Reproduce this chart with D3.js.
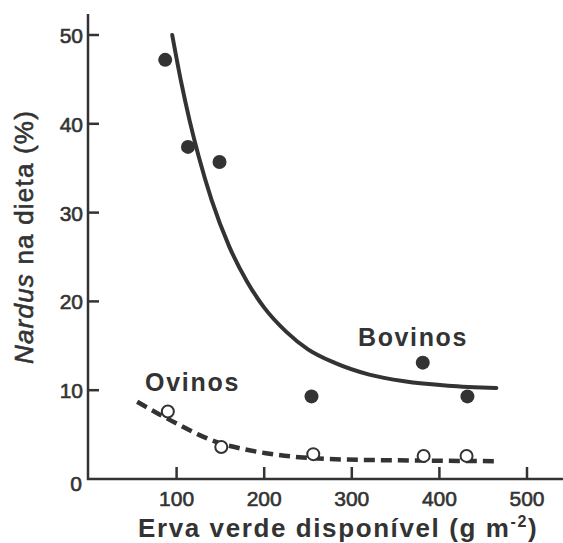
<!DOCTYPE html>
<html><head><meta charset="utf-8">
<script src="https://cdn.jsdelivr.net/npm/d3@7"></script>
<style>body{margin:0;background:#fff}svg{display:block}text{font-family:"Liberation Sans",Arial,sans-serif;fill:#333}.heavy{stroke:#333;stroke-width:0.6px}</style>
</head><body><div id="chart"></div>
<script>
const xTicks = [100, 200, 300, 400, 500];
const yTicks = [10, 20, 30, 40, 50];
const bovinosX = [87, 113, 149, 254, 381, 432];
const bovinosY = [47.2, 37.4, 35.7, 9.3, 13.1, 9.3];
const ovinosX = [90, 151, 256, 382, 431];
const ovinosY = [7.6, 3.6, 2.8, 2.6, 2.6];
const bovinosCurveX = [95, 105, 115, 125, 140, 160, 180, 200, 225, 250, 280, 320, 360, 410, 465];
const bovinosCurveY = [50.0, 44.8, 40.3, 36.4, 31.4, 26.2, 22.3, 19.3, 16.6, 14.6, 13.1, 11.75, 11.0, 10.5, 10.25];
const ovinosCurveX = [55, 80, 103, 125, 149, 175, 202, 240, 290, 354, 410, 465];
const ovinosCurveY = [8.7, 7.3, 6.1, 5.0, 4.05, 3.4, 2.9, 2.45, 2.2, 2.1, 2.05, 2.0];

const W = 563, H = 543, ink = "#333";
const svg = d3.select("#chart").append("svg").attr("width", W).attr("height", H);
const x = d3.scaleLinear().domain([0, 500]).range([89, 527]);
const y = d3.scaleLinear().domain([0, 50]).range([479, 35]);

function fit(sel, target) {
  const w = sel.node().getComputedTextLength();
  const n = sel.text().length;
  sel.attr("letter-spacing", (target - w) / n);
}

// axes
const g = svg.append("g").attr("stroke", ink).attr("stroke-width", 2.5).attr("fill", "none");
g.append("line").attr("x1", 88).attr("x2", 88).attr("y1", 14).attr("y2", 480);
g.append("line").attr("x1", 87).attr("x2", W).attr("y1", 479).attr("y2", 479);
yTicks.forEach(v => g.append("line").attr("x1", 88).attr("x2", 99).attr("y1", y(v)).attr("y2", y(v)));
xTicks.forEach(v => g.append("line").attr("x1", x(v)).attr("x2", x(v)).attr("y1", 479).attr("y2", 467));

svg.selectAll(".yl").data(yTicks).join("text").attr("class", "heavy").attr("x", 83).attr("y", d => y(d) + 8)
  .attr("text-anchor", "end").attr("font-size", 21).text(d => d);
svg.selectAll(".xl").data(xTicks).join("text").attr("class", "heavy").attr("x", d => x(d)).attr("y", 506)
  .attr("text-anchor", "middle").attr("font-size", 21).text(d => d);
svg.append("text").attr("class", "heavy").attr("x", 76).attr("y", 491).attr("text-anchor", "middle").attr("font-size", 21).text("0");

// titles
const xt = svg.append("text").attr("x", 138).attr("y", 537)
  .attr("font-size", 26).attr("font-weight", "bold").attr("letter-spacing", 1.6);
xt.append("tspan").text("Erva verde disponível (g m");
xt.append("tspan").attr("font-size", 16).attr("dy", -10).text("-2");
xt.append("tspan").attr("dy", 10).text(")");

const yt = svg.append("text").attr("class", "heavy").attr("transform", "translate(33,237) rotate(-90)")
  .attr("text-anchor", "middle").attr("font-size", 26).attr("letter-spacing", 1.2);
yt.append("tspan").attr("font-style", "italic").text("Nardus");
yt.append("tspan").text(" na dieta (%)");

// curves
const line = d3.line().x(d => x(d[0])).y(d => y(d[1])).curve(d3.curveMonotoneX);
svg.append("path").datum(bovinosCurveX.map((v, i) => [v, bovinosCurveY[i]]))
  .attr("d", line).attr("fill", "none").attr("stroke", ink).attr("stroke-width", 4).attr("stroke-linecap", "round");
svg.append("path").datum(ovinosCurveX.map((v, i) => [v, ovinosCurveY[i]]))
  .attr("d", line).attr("fill", "none").attr("stroke", ink).attr("stroke-width", 4.5)
  .attr("stroke-dasharray", "11,6");

// points
svg.selectAll(".bov").data(bovinosX).join("circle")
  .attr("cx", d => x(d)).attr("cy", (d, i) => y(bovinosY[i])).attr("r", 7).attr("fill", ink);
svg.selectAll(".ovi").data(ovinosX).join("circle")
  .attr("cx", d => x(d)).attr("cy", (d, i) => y(ovinosY[i])).attr("r", 6)
  .attr("fill", "#fff").attr("stroke", ink).attr("stroke-width", 2);

// labels
const b = svg.append("text").attr("x", 358).attr("y", 346).attr("font-size", 25).attr("font-weight", "bold").text("Bovinos");
fit(b, 110);
const o = svg.append("text").attr("x", 145).attr("y", 391).attr("font-size", 25).attr("font-weight", "bold").text("Ovinos");
fit(o, 95);
</script></body></html>
